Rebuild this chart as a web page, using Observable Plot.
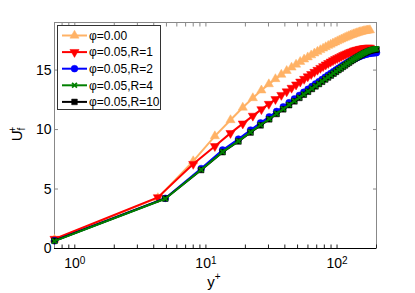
<!DOCTYPE html>
<html><head><meta charset="utf-8">
<script src="https://cdn.jsdelivr.net/npm/d3@7"></script>
<script src="https://cdn.jsdelivr.net/npm/@observablehq/plot@0.6"></script>
<style>body{margin:0;background:#fff;} svg{display:block;}</style>
</head><body><div id="chart"></div>
<script>
// y+ grid of the phi=0.00 and R=1 cases
const yPlusA = [0.7,4.3,8.0,11.7,15.4,19.1,22.8,26.5,30.2,33.9,37.6,41.3,45.0,48.7,52.4,56.1,59.8,63.5,67.2,70.9,74.6,78.3,82.0,85.7,89.4,93.1,96.8,100.5,104.2,107.9,111.6,115.3,119.0,122.7,126.4,130.1,133.8,137.5,141.2,144.9,148.6,152.3,156.0,159.7,163.4,167.1,170.8,174.5,178.2];
// y+ grid of the R=2, R=4, R=10 cases
const yPlusB = [0.7,4.9,9.2,13.4,17.7,21.9,26.1,30.4,34.6,38.9,43.1,47.3,51.6,55.8,60.1,64.3,68.5,72.8,77.0,81.3,85.5,89.7,94.0,98.2,102.5,106.7,110.9,115.2,119.4,123.7,127.9,132.1,136.4,140.6,144.9,149.1,153.3,157.6,161.8,166.1,170.3,174.5,178.8,183.0,187.3,191.5,195.7,200.0];

const uPhi000 = [0.75,4.25,7.35,9.45,10.8,11.85,12.65,13.3,13.82,14.25,14.62,14.94,15.22,15.47,15.7,15.9,16.08,16.25,16.41,16.55,16.69,16.82,16.94,17.05,17.15,17.25,17.34,17.43,17.51,17.59,17.66,17.73,17.8,17.86,17.92,17.97,18.02,18.07,18.11,18.15,18.19,18.22,18.25,18.28,18.3,18.32,18.34,18.35,18.36];
const uR1 = [0.8,4.3,7.1,8.6,9.7,10.5,11.15,11.7,12.15,12.55,12.9,13.2,13.5,13.78,14.02,14.25,14.46,14.66,14.84,15.01,15.17,15.32,15.46,15.58,15.70,15.81,15.91,16.0,16.09,16.17,16.25,16.32,16.39,16.45,16.51,16.56,16.61,16.65,16.69,16.72,16.75,16.78,16.80,16.82,16.84,16.85,16.86,16.87,16.87];
const uR2 = [0.65,4.22,6.72,8.28,9.2,9.96,10.56,11.07,11.52,11.91,12.26,12.58,12.87,13.14,13.39,13.62,13.83,14.03,14.22,14.4,14.57,14.72,14.87,15.01,15.15,15.27,15.39,15.5,15.61,15.71,15.8,15.88,15.96,16.03,16.09,16.15,16.2,16.25,16.29,16.33,16.36,16.39,16.41,16.43,16.44,16.45,16.46,16.46];
const uR4 = [0.62,4.18,6.62,8.12,9.03,9.78,10.38,10.89,11.34,11.73,12.08,12.4,12.69,12.96,13.21,13.44,13.66,13.86,14.05,14.24,14.41,14.57,14.73,14.88,15.03,15.16,15.3,15.42,15.55,15.66,15.78,15.88,15.98,16.07,16.16,16.24,16.32,16.39,16.46,16.52,16.58,16.63,16.67,16.71,16.74,16.76,16.78,16.79];
const uR10 = [0.65,4.2,6.6,8.1,9.0,9.75,10.35,10.86,11.31,11.70,12.05,12.37,12.66,12.93,13.18,13.41,13.63,13.83,14.02,14.21,14.38,14.54,14.70,14.85,15.00,15.13,15.27,15.39,15.52,15.63,15.75,15.85,15.95,16.04,16.13,16.21,16.29,16.36,16.43,16.49,16.54,16.59,16.63,16.66,16.69,16.71,16.72,16.73];

const seriesNames = ["φ=0.00","φ=0.05,R=1","φ=0.05,R=2","φ=0.05,R=4","φ=0.05,R=10"];
const seriesColors = ["#ffb266","#ff0000","#0000ff","#008000","#000000"];
const xMajorTicks = [1,10,100];
const xMinorTicks = [0.8,0.9,2,3,4,5,6,7,8,9,20,30,40,50,60,70,80,90,200];
const yTicks = [0,5,10,15];

const sqrt3 = Math.sqrt(3);
const triDown = {draw(ctx, size){ const y = -Math.sqrt(size/(sqrt3*3)); ctx.moveTo(0,-y*2); ctx.lineTo(-sqrt3*y,y); ctx.lineTo(sqrt3*y,y); ctx.closePath(); }};
const triUp = {draw(ctx, size){ const y = -Math.sqrt(size/(sqrt3*3)); ctx.moveTo(0,y*2); ctx.lineTo(-sqrt3*y,-y); ctx.lineTo(sqrt3*y,-y); ctx.closePath(); }};
const circ = {draw(ctx, size){ const r = Math.sqrt(size/Math.PI); ctx.moveTo(r,0); ctx.arc(0,0,r,0,2*Math.PI); }};
const sq = {draw(ctx, size){ const w = Math.sqrt(size), h = w/2; ctx.rect(-h,-h,w,w); }};
const times = {draw(ctx, size){ const r = Math.sqrt(size)/2.2; ctx.moveTo(-r,-r); ctx.lineTo(r,r); ctx.moveTo(-r,r); ctx.lineTo(r,-r); }};

const series = [
  {name: seriesNames[0], color: seriesColors[0], xs: yPlusA, ys: uPhi000, sym: triUp, r: 3.4, filled: true},
  {name: seriesNames[1], color: seriesColors[1], xs: yPlusA, ys: uR1, sym: triDown, r: 3.4, filled: true},
  {name: seriesNames[2], color: seriesColors[2], xs: yPlusB, ys: uR2, sym: circ, r: 3.4, filled: true},
  {name: seriesNames[3], color: seriesColors[3], xs: yPlusB, ys: uR4, sym: times, r: 3.0, filled: false},
  {name: seriesNames[4], color: seriesColors[4], xs: yPlusB, ys: uR10, sym: sq, r: 3.2, filled: true}
];
series.forEach(s => s.rows = s.xs.map((x,i) => ({x, u: s.ys[i]})));
// draw order: black squares below green crosses
const drawOrder = [0,1,2,4,3];

const marks = [
  Plot.frame({stroke: "#888", strokeWidth: 1}),
  Plot.axisX(xMajorTicks.concat(xMinorTicks), {anchor: "bottom", tickSize: -3.5, fill: "none", stroke: "#222", label: null}),
  Plot.axisX(xMajorTicks.concat(xMinorTicks), {anchor: "top", tickSize: -3.5, fill: "none", stroke: "#888", label: null}),
  Plot.axisY(yTicks, {anchor: "left", tickSize: -4, fill: "none", stroke: "#888", label: null}),
  Plot.axisY(yTicks, {anchor: "right", tickSize: -4, fill: "none", stroke: "#888", label: null}),
  Plot.ruleY([0], {stroke: "#000", strokeWidth: 1.2}),
  Plot.axisX(xMajorTicks, {anchor: "bottom", tickSize: 0, tickPadding: 10, tickFormat: d => "10^" + Math.round(Math.log10(d)), label: null, fontSize: 14, fill: "#000"}),
  Plot.axisY(yTicks, {anchor: "left", tickSize: 0, tickPadding: 3, label: null, fontSize: 14, fill: "#000"})
];
for (const k of drawOrder) {
  const s = series[k];
  marks.push(Plot.line(s.rows, {x: "x", y: "u", stroke: s.color, strokeWidth: 2}));
  marks.push(Plot.dot(s.rows, {x: "x", y: "u", symbol: s.sym, r: s.r,
    fill: s.filled ? s.color : "none", stroke: s.color, strokeWidth: s.filled ? 0.5 : 1.8}));
}

const plot = Plot.plot({
  width: 415, height: 293,
  marginLeft: 54, marginRight: 39, marginTop: 22, marginBottom: 45,
  style: {fontFamily: "'Liberation Sans', Arial, sans-serif", background: "#fff", color: "#000"},
  x: {type: "log", domain: [0.7, 200]},
  y: {domain: [0, 19]},
  marks
});
document.getElementById("chart").appendChild(plot);

const svg = d3.select(plot);
// superscripts on x tick labels
svg.selectAll('g[aria-label="x-axis tick label"] text').each(function() {
  const t = d3.select(this);
  const parts = t.text().split("^");
  if (parts.length === 2) {
    t.text(parts[0]);
    t.append("tspan").attr("dy", "-0.45em").attr("font-size", 10).text(parts[1]);
  }
});
const font = "'Liberation Sans', Arial, sans-serif";
// axis labels
const yl = svg.append("text").attr("transform", "translate(22,134) rotate(-90)")
  .attr("text-anchor", "middle").attr("font-family", font).attr("font-size", 15).attr("fill", "#000");
yl.append("tspan").text("U");
yl.append("tspan").attr("font-size", 10).attr("dy", 3).text("f");
yl.append("tspan").attr("font-size", 10).attr("dx", -5).attr("dy", -9).text("+");
const xl = svg.append("text").attr("x", 214).attr("y", 287).attr("text-anchor", "middle")
  .attr("font-family", font).attr("font-size", 15).attr("fill", "#000");
xl.append("tspan").text("y");
xl.append("tspan").attr("font-size", 10).attr("dy", -7).text("+");

// legend
const lg = svg.append("g").attr("transform", "translate(57.5,25.5)").attr("text-anchor", "start");
lg.append("rect").attr("x", 0).attr("y", 0).attr("width", 103).attr("height", 84)
  .style("fill", "#ffffff").style("stroke", "#333333").style("stroke-width", "1px");
series.forEach((s, i) => {
  const cy = 10 + i * 16.6;
  lg.append("line").attr("x1", 4.5).attr("x2", 29.5).attr("y1", cy).attr("y2", cy).attr("stroke", s.color).attr("stroke-width", 2);
  const size = Math.PI * s.r * s.r;
  lg.append("path").attr("transform", `translate(17,${cy})`).attr("d", d3.symbol(s.sym, size)())
    .attr("fill", s.filled ? s.color : "none").attr("stroke", s.color).attr("stroke-width", s.filled ? 0.5 : 1.8);
  lg.append("text").attr("x", 31.5).attr("y", cy + 4.3).attr("text-anchor", "start").attr("font-family", font).attr("font-size", 12).attr("fill", "#000").text(s.name);
});
</script>
</body></html>
